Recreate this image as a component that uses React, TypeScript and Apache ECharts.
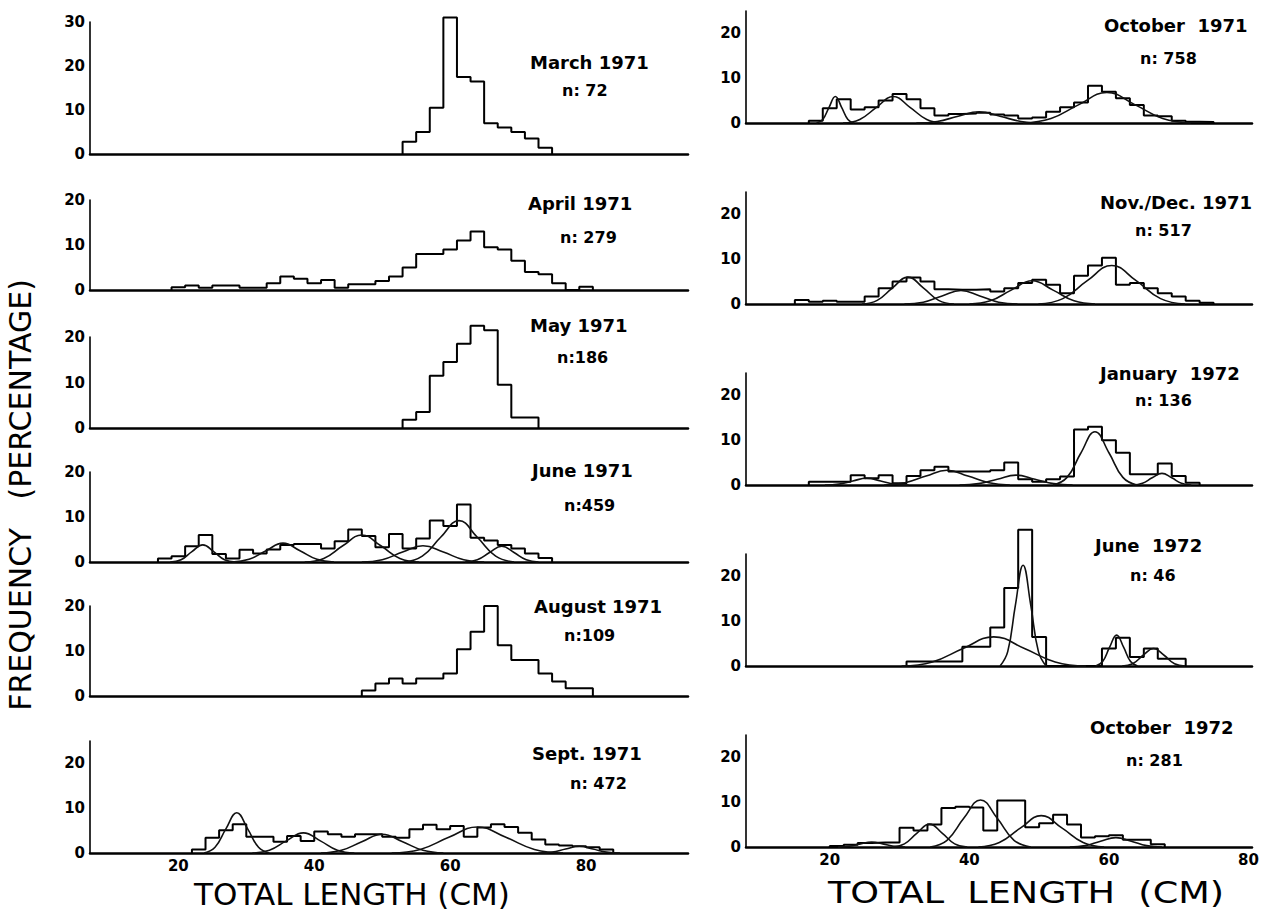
import React, { useEffect, useRef } from "react";
import * as echarts from "echarts";

// ---------- DATA (total length in cm, frequency in %) ----------
const BIN_WIDTH = 2;

const march71Start = 53;
const march71Freq = [2.8, 5, 10.5, 31, 17.5, 16.5, 7, 6, 5, 3.5, 1.4];

const april71Start = 19;
const april71Freq = [0.6, 1, 0.5, 1, 1, 0.5, 0.5, 1.5, 3, 2.5, 1.5, 2.2, 0.5, 1.3, 1.3, 2, 3, 5, 8, 8, 9, 11, 13, 9.5, 9, 6.5, 4, 3.5, 1.5, 0, 0.7];

const may71Start = 53;
const may71Freq = [1.8, 3.5, 11.5, 14.5, 18.5, 22.5, 21.5, 9.5, 2.3, 2.3];

const june71Start = 17;
const june71Freq = [0.8, 1.3, 3.5, 6, 1.8, 0.8, 2.7, 1.9, 2.8, 3.8, 4, 4, 3, 4.6, 7.2, 5.8, 3.3, 6.2, 3, 5.2, 9.2, 8, 12.8, 5.4, 4.8, 3.8, 3, 1.9, 0.9];
const june71Curves = [
  [[18.8, 0], [20.4, 0.5], [22, 2.3], [23.6, 3.8], [25.2, 2.3], [26.8, 0.5], [28.4, 0]],
  [[27.9, 0], [30.4, 0.6], [32.9, 2.5], [35.4, 4.2], [37.9, 2.5], [40.4, 0.6], [42.9, 0]],
  [[38.6, 0], [41.4, 0.8], [44.2, 3.6], [47, 6], [49.8, 3.6], [52.6, 0.8], [55.4, 0]],
  [[47, 0], [50, 0.5], [53, 2.2], [56, 3.6], [59, 2.2], [62, 0.5], [65, 0]],
  [[53.2, 0], [55.9, 1.3], [58.6, 5.5], [61.3, 9.2], [64, 5.5], [66.7, 1.3], [69.4, 0]],
  [[62.2, 0], [64, 0.5], [65.8, 2.1], [67.6, 3.5], [69.4, 2.1], [71.2, 0.5], [73, 0]],
];

const aug71Start = 47;
const aug71Freq = [1.2, 2.8, 3.9, 2.8, 3.9, 3.9, 5, 10.4, 14.3, 20, 11.3, 8, 8, 5, 3.2, 1.7, 1.7];

const sept71Start = 22;
const sept71Freq = [0.8, 3.4, 5.1, 6.4, 3.6, 3.6, 2.5, 3.8, 2.7, 4.8, 4.2, 3.6, 4.2, 4.2, 3.6, 3.4, 5.3, 6.3, 5.3, 6, 3.6, 5.7, 6.4, 5.8, 4.5, 3, 1.9, 1.7, 1.5, 1.3, 0.8];
const sept71Curves = [
  [[23.8, 0], [25.4, 1.3], [27, 5.4], [28.6, 9], [30.2, 5.4], [31.8, 1.3], [33.4, 0]],
  [[30.9, 0], [33.4, 0.6], [35.9, 2.7], [38.4, 4.5], [40.9, 2.7], [43.4, 0.6], [45.9, 0]],
  [[41, 0], [44, 0.6], [47, 2.5], [50, 4.2], [53, 2.5], [56, 0.6], [59, 0]],
  [[51.4, 0], [55.6, 0.8], [59.8, 3.5], [64, 5.8], [68.2, 3.5], [72.4, 0.8], [76.6, 0]],
  [[73, 0], [75, 0.2], [77, 0.9], [79, 1.5], [81, 0.9], [83, 0.2], [85, 0]],
];

const oct71Start = 17;
const oct71Freq = [0.5, 3.3, 5.3, 3, 3.5, 5, 6.5, 5.3, 3.3, 1.7, 2, 2.1, 2.3, 1.9, 1.7, 1, 1.2, 2.5, 3.5, 4.6, 8.3, 7, 5.5, 4, 1.7, 1.5, 0.5, 0.3, 0.2];
const oct71Curves = [
  [[18.1, 0], [19, 0.8], [19.9, 3.5], [20.8, 5.9], [21.7, 3.5], [22.6, 0.8], [23.5, 0]],
  [[21.9, 0], [24.3, 0.8], [26.7, 3.5], [29.1, 5.9], [31.5, 3.5], [33.9, 0.8], [36.3, 0]],
  [[32.4, 0], [35.4, 0.35], [38.4, 1.5], [41.4, 2.5], [44.4, 1.5], [47.4, 0.35], [50.4, 0]],
  [[47.7, 0], [51.7, 1], [55.7, 4.1], [59.7, 6.8], [63.7, 4.1], [67.7, 1], [71.7, 0]],
];

const novDec71Start = 15;
const novDec71Freq = [0.9, 0.5, 0.75, 0.5, 0.5, 1.7, 3.5, 5, 5.9, 5, 3.3, 3.2, 3.2, 3.3, 2.8, 3.5, 4.7, 5.4, 4.3, 2.4, 6.3, 8.6, 10.3, 4.3, 4.7, 3.5, 2.4, 1.7, 0.75, 0.3];
const novDec71Curves = [
  [[24.6, 0], [26.8, 0.8], [29, 3.6], [31.2, 6], [33.4, 3.6], [35.6, 0.8], [37.8, 0]],
  [[30.7, 0], [33.4, 0.4], [36.1, 1.8], [38.8, 3], [41.5, 1.8], [44.2, 0.4], [46.9, 0]],
  [[40, 0], [43, 0.7], [46, 3.1], [49, 5.2], [52, 3.1], [55, 0.7], [58, 0]],
  [[49.9, 0], [53.4, 1.2], [56.9, 5.2], [60.4, 8.6], [63.9, 5.2], [67.4, 1.2], [70.9, 0]],
];

const jan72Start = 17;
const jan72Freq = [0.7, 0.7, 0.7, 2.2, 1.5, 2.2, 0.4, 2, 3.3, 4.1, 3, 3, 3, 3.3, 5, 1.3, 0.7, 1.3, 1.9, 12.4, 13, 10, 7.2, 2.4, 2.4, 4.8, 2, 0.5];
const jan72Curves = [
  [[19.3, 0], [21.3, 0.2], [23.3, 0.9], [25.3, 1.5], [27.3, 0.9], [29.3, 0.2], [31.3, 0]],
  [[27.8, 0], [30.8, 0.5], [33.8, 2], [36.8, 3.3], [39.8, 2], [42.8, 0.5], [45.8, 0]],
  [[38.6, 0], [41.3, 0.3], [44, 1.3], [46.7, 2.2], [49.4, 1.3], [52.1, 0.3], [54.8, 0]],
  [[52, 0], [54, 1.7], [56, 7.2], [58, 11.9], [60, 7.2], [62, 1.7], [64, 0]],
  [[63.4, 0], [64.8, 0.4], [66.2, 1.6], [67.6, 2.6], [69, 1.6], [70.4, 0.4], [71.8, 0]],
];

const june72Start = 31;
const june72Freq = [1, 1, 1, 1, 4.3, 4.3, 8.6, 17.4, 30.4, 6.5, 0, 0, 0, 0, 3.9, 6.3, 2, 3.9, 1.6, 1.6];
const june72Curves = [
  [[30.3, 0], [34.7, 0.9], [39.1, 3.9], [43.5, 6.5], [47.9, 3.9], [52.3, 0.9], [56.7, 0]],
  [[44.4, 0], [45.5, 3.2], [46.6, 13.6], [47.7, 22.5], [48.8, 13.6], [49.9, 3.2], [51, 0]],
  [[58.1, 0], [59.1, 1], [60.1, 4.2], [61.1, 6.9], [62.1, 4.2], [63.1, 1], [64.1, 0]],
  [[61.9, 0], [63.4, 0.5], [64.9, 2.4], [66.4, 3.9], [67.9, 2.4], [69.4, 0.5], [70.9, 0]],
];

const oct72Start = 20;
const oct72Freq = [0.2, 0.5, 0.9, 1, 1, 4.3, 3.7, 5, 8.7, 9, 8.8, 3.7, 10.4, 10.4, 4.4, 5.3, 7.2, 5, 2.1, 2.4, 2.6, 1.6, 1.6, 0.6];
const oct72Curves = [
  [[21.2, 0], [22.8, 0.15], [24.4, 0.7], [26, 1.1], [27.6, 0.7], [29.2, 0.15], [30.8, 0]],
  [[28.9, 0], [30.7, 0.7], [32.5, 3.1], [34.3, 5.1], [36.1, 3.1], [37.9, 0.7], [39.7, 0]],
  [[34.4, 0], [36.8, 1.5], [39.2, 6.4], [41.6, 10.5], [44, 6.4], [46.4, 1.5], [48.8, 0]],
  [[41.3, 0], [44.3, 1], [47.3, 4.2], [50.3, 7], [53.3, 4.2], [56.3, 1], [59.3, 0]],
  [[54.4, 0], [56.6, 0.3], [58.8, 1.3], [61, 2.1], [63.2, 1.3], [65.4, 0.3], [67.6, 0]],
];

const panelTitles = [
  "March 1971", "April 1971", "May 1971", "June 1971", "August 1971", "Sept. 1971",
  "October  1971", "Nov./Dec. 1971", "January  1972", "June  1972", "October  1972",
];
const panelSampleSizes = ["n: 72", "n: 279", "n:186", "n:459", "n:109", "n: 472", "n: 758", "n: 517", "n: 136", "n: 46", "n: 281"];
const panelYMax = [30, 20, 20, 20, 20, 25, 25, 25, 25, 25, 25];
const xTickLabels = [20, 40, 60, 80];
const yTickLabels = [0, 10, 20, 30];
const xAxisTitle = "TOTAL LENGTH (CM)";
const xAxisTitleRight = "TOTAL  LENGTH  (CM)";
const yAxisTitle = "FREQUENCY   (PERCENTAGE)";

const panelStarts = [march71Start, april71Start, may71Start, june71Start, aug71Start, sept71Start, oct71Start, novDec71Start, jan72Start, june72Start, oct72Start];
const panelFreqs = [march71Freq, april71Freq, may71Freq, june71Freq, aug71Freq, sept71Freq, oct71Freq, novDec71Freq, jan72Freq, june72Freq, oct72Freq];
const panelCurves: number[][][][] = [[], [], [], june71Curves, [], sept71Curves, oct71Curves, novDec71Curves, jan72Curves, june72Curves, oct72Curves];

// ---------- LAYOUT ----------
const columns = [
  { left: 90, width: 598, min: 7, max: 95 },
  { left: 746, width: 506, min: 8, max: 80.5 },
];
const panelLayout = [
  { col: 0, top: 22, height: 132, bottom: false, tx: 530, ty: 62, nx: 562, ny: 90 },
  { col: 0, top: 200, height: 90, bottom: false, tx: 528, ty: 203, nx: 560, ny: 237 },
  { col: 0, top: 337, height: 91, bottom: false, tx: 530, ty: 325, nx: 557, ny: 357 },
  { col: 0, top: 472, height: 90, bottom: false, tx: 532, ty: 470, nx: 564, ny: 505 },
  { col: 0, top: 606, height: 90, bottom: false, tx: 534, ty: 606, nx: 564, ny: 635 },
  { col: 0, top: 741, height: 112, bottom: true, tx: 532, ty: 753, nx: 570, ny: 783 },
  { col: 1, top: 11, height: 112, bottom: false, tx: 1104, ty: 25, nx: 1140, ny: 58 },
  { col: 1, top: 192, height: 112, bottom: false, tx: 1100, ty: 202, nx: 1135, ny: 230 },
  { col: 1, top: 373, height: 112, bottom: false, tx: 1100, ty: 373, nx: 1135, ny: 400 },
  { col: 1, top: 554, height: 112, bottom: false, tx: 1095, ty: 545, nx: 1130, ny: 575 },
  { col: 1, top: 735, height: 112, bottom: true, tx: 1090, ty: 727, nx: 1126, ny: 760 },
];

const FONT = "DejaVu Sans";

function stepPoints(start: number, freq: number[]) {
  const pts: number[][] = [[start, 0]];
  freq.forEach((f, i) => {
    const a = start + i * BIN_WIDTH;
    pts.push([a, f], [a + BIN_WIDTH, f]);
  });
  pts.push([start + freq.length * BIN_WIDTH, 0]);
  return pts;
}

function buildOption() {
  const grid: any[] = [];
  const xAxis: any[] = [];
  const yAxis: any[] = [];
  const series: any[] = [];
  const graphic: any[] = [];

  panelLayout.forEach((p, i) => {
    const c = columns[p.col];
    grid.push({ left: c.left, top: p.top, width: c.width, height: p.height, containLabel: false });
    xAxis.push({
      type: "value",
      gridIndex: i,
      min: c.min,
      max: c.max,
      interval: 1,
      axisLine: { show: true, onZero: false, lineStyle: { color: "#000", width: 2.5 } },
      axisTick: { show: false },
      splitLine: { show: false },
      axisLabel: {
        show: p.bottom,
        margin: 5,
        color: "#000",
        fontWeight: "bold",
        fontSize: 15,
        fontFamily: FONT,
        formatter: (v: number) => (xTickLabels.indexOf(v) >= 0 ? String(v) : ""),
      },
    });
    yAxis.push({
      type: "value",
      gridIndex: i,
      min: 0,
      max: panelYMax[i],
      interval: 5,
      axisLine: { show: true, lineStyle: { color: "#000", width: 1.6 } },
      axisTick: { show: false },
      splitLine: { show: false },
      axisLabel: {
        margin: 5,
        color: "#000",
        fontWeight: "bold",
        fontSize: 15,
        fontFamily: FONT,
        formatter: (v: number) => (yTickLabels.indexOf(v) >= 0 ? String(v) : ""),
      },
    });
    series.push({
      type: "line",
      xAxisIndex: i,
      yAxisIndex: i,
      data: stepPoints(panelStarts[i], panelFreqs[i]),
      symbol: "none",
      clip: false,
      silent: true,
      z: 3,
      lineStyle: { color: "#000", width: 2 },
    });
    panelCurves[i].forEach((curve) => {
      series.push({
        type: "line",
        xAxisIndex: i,
        yAxisIndex: i,
        data: curve,
        smooth: 0.45,
        symbol: "none",
        clip: false,
        silent: true,
        z: 4,
        lineStyle: { color: "#111", width: 1.6 },
      });
    });
    graphic.push({
      type: "text",
      x: p.tx,
      y: p.ty,
      style: { text: panelTitles[i], fill: "#000", fontSize: 18, fontWeight: "bold", fontFamily: FONT, align: "left", verticalAlign: "middle" },
    });
    graphic.push({
      type: "text",
      x: p.nx,
      y: p.ny,
      style: { text: panelSampleSizes[i], fill: "#000", fontSize: 16, fontWeight: "bold", fontFamily: FONT, align: "left", verticalAlign: "middle" },
    });
  });

  graphic.push({
    type: "text",
    x: 20,
    y: 495,
    rotation: Math.PI / 2,
    style: { text: yAxisTitle, fill: "#000", fontSize: 30, fontFamily: FONT, align: "center", verticalAlign: "middle" },
  });
  graphic.push({
    type: "text",
    x: 352,
    y: 894,
    style: { text: xAxisTitle, fill: "#000", fontSize: 31, fontFamily: FONT, align: "center", verticalAlign: "middle" },
  });
  graphic.push({
    type: "text",
    x: 1026,
    y: 893,
    scaleX: 1.22,
    style: { text: xAxisTitleRight, fill: "#000", fontSize: 30, fontFamily: FONT, align: "center", verticalAlign: "middle" },
  });

  return {
    animation: false,
    backgroundColor: "#fff",
    grid,
    xAxis,
    yAxis,
    series,
    graphic,
  };
}

export default function App() {
  const ref = useRef<HTMLDivElement>(null);
  useEffect(() => {
    if (!ref.current) return;
    const chart = echarts.init(ref.current, undefined, { renderer: "svg" });
    chart.setOption(buildOption() as any);
    return () => chart.dispose();
  }, []);
  return (
    <div
      ref={ref}
      style={{ position: "absolute", left: 0, top: 0, width: 1265, height: 914, background: "#fff" }}
    />
  );
}
